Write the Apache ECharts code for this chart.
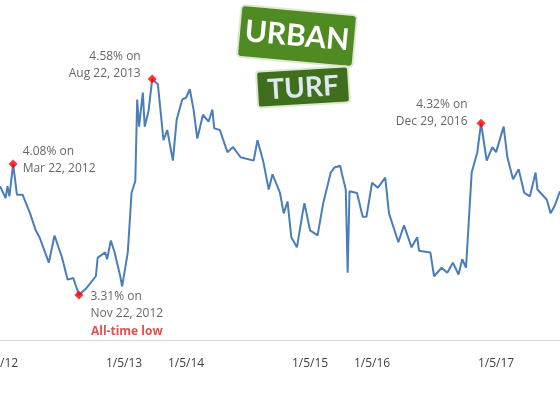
<!DOCTYPE html>
<html><head><meta charset="utf-8">
<script src="https://cdn.jsdelivr.net/npm/echarts@6/dist/echarts.min.js"></script>
<style>html,body{margin:0;padding:0;background:#fff}#c{width:560px;height:420px}</style>
</head><body><div id="c"></div>
<script>
const weeks = [0,3,4,5,7,9,12,16,19,21,26,29,33,36,39,42,46,51,52,56,57,59,61,64,65,68,70,72,73,74,76,77,79,80,81,84,85,87,89,92,94,97,99,101,103,105,108,111,113,114,117,121,124,128,135,137,140,143,145,149,151,153,155,158,161,162,165,169,172,176,178,181,182,184,185,186,190,193,195,198,201,205,207,212,215,219,222,223,229,231,235,238,241,244,246,248,251,254,256,259,262,264,268,270,273,276,279,282,285,286,291,293,295,298];
const rates = [3.95,3.88,3.95,3.89,4.08,3.90,3.90,3.79,3.69,3.65,3.50,3.66,3.53,3.40,3.41,3.31,3.35,3.42,3.53,3.56,3.52,3.63,3.56,3.42,3.36,3.56,3.91,3.98,4.46,4.30,4.50,4.30,4.39,4.39,4.58,4.55,4.56,4.22,4.28,4.10,4.34,4.46,4.47,4.52,4.40,4.23,4.37,4.33,4.40,4.29,4.28,4.15,4.18,4.12,4.10,4.22,4.10,3.93,4.02,3.91,3.79,3.86,3.65,3.59,3.79,3.85,3.69,3.66,3.85,4.03,4.06,4.07,4.02,3.93,3.44,3.92,3.91,3.77,3.77,3.97,3.94,4.00,3.79,3.62,3.72,3.59,3.65,3.57,3.56,3.42,3.47,3.44,3.50,3.43,3.52,3.47,4.03,4.15,4.32,4.10,4.18,4.15,4.30,4.12,3.99,4.05,3.91,3.89,4.03,3.93,3.87,3.79,3.83,3.92];
const tickLabels = ["1/5/12","","1/5/13","1/5/14","","1/5/15","1/5/16","","1/5/17"];
const noteWeeks = [7,81,42,256];
const noteRates = [4.08,4.58,3.31,4.32];
const noteDates = ["Mar 22, 2012","Aug 22, 2013","Nov 22, 2012","Dec 29, 2016"];
const labelCfg = [
  {position:'right', offset:[0,-4], align:'left'},
  {position:'left', offset:[-2,-14], align:'right'},
  {position:'right', offset:[2,20], align:'left'},
  {position:'left', offset:[-4,-10], align:'right'}
];
const chart = echarts.init(document.getElementById('c'));
const line = weeks.map((w,i)=>[w,rates[i]]);
const notes = noteWeeks.map((w,i)=>({
  value:[w,noteRates[i]],
  label:{show:true, position:labelCfg[i].position, offset:labelCfg[i].offset, align:labelCfg[i].align,
    formatter: noteRates[i].toFixed(2)+'% on\n'+noteDates[i] + (i===2?'\n{low|All-time low}':''),
    rich:{low:{color:'#e02020',fontWeight:'bold',fontSize:12,lineHeight:20,align:'center'}}}
}));
chart.setOption({
  animation:false,
  grid:{left:0,right:0,top:0,bottom:80,outerBoundsMode:'none',containLabel:false},
  xAxis:{type:'value',min:0,max:298,interval:33,
    axisLine:{lineStyle:{color:'#d9d9d9'}},axisTick:{show:false},splitLine:{show:false},
    axisLabel:{color:'#404040',fontSize:12,margin:18,fontFamily:'Open Sans',showMaxLabel:false,
      formatter:(v)=>tickLabels[Math.round(v/33)]||''}},
  yAxis:{type:'value',min:3.045,max:5.045,show:false,splitLine:{show:false}},
  series:[
    {type:'line',data:line,symbol:'none',lineStyle:{color:'#4a7ebb',width:2}},
    {type:'scatter',data:notes,symbol:'diamond',symbolSize:9,itemStyle:{color:'#ff0000'},
     label:{color:'#404040',fontSize:12,lineHeight:17,fontFamily:'Open Sans'},z:5}
  ],
  graphic:[
    {type:'group',x:297,y:36,rotation:-0.09,children:[
      {type:'rect',shape:{x:-58,y:-26,width:116,height:52,r:4},style:{fill:'#4f8a22',stroke:'#dfe9cf',lineWidth:2}},
      {type:'text',style:{x:0,y:0,text:'URBAN',fill:'#fff',font:'bold 30px Lato',align:'center',verticalAlign:'middle'}}
    ]},
    {type:'group',x:303,y:87,rotation:0.06,children:[
      {type:'rect',shape:{x:-46,y:-18,width:92,height:36,r:3},style:{fill:'#3f6f1c',stroke:'#dfe9cf',lineWidth:2}},
      {type:'text',style:{x:0,y:1,text:'TURF',fill:'#dde8f0',font:'bold 28px Lato',align:'center',verticalAlign:'middle'}}
    ]}
  ]
});
</script></body></html>
